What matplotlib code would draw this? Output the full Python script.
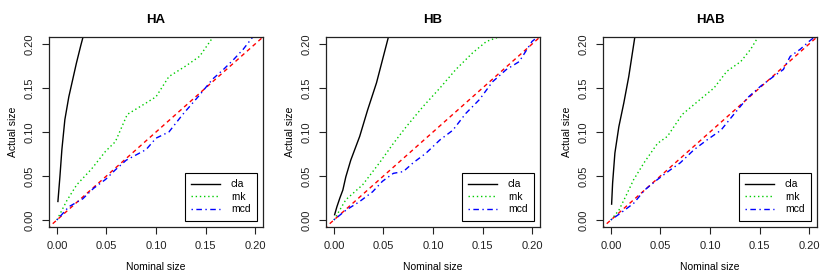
import matplotlib
matplotlib.use("Agg")
import matplotlib.pyplot as plt
import numpy as np

plt.rcParams["font.family"] = ["Liberation Sans", "DejaVu Sans"]

titles = ["HA", "HB", "HAB"]
labels = ["cla", "rnk", "mcd"]

# HA
ha_cla_x = [0.001, 0.003, 0.005, 0.008, 0.012, 0.016, 0.0196, 0.024, 0.028]
ha_cla_y = [0.021, 0.049, 0.080, 0.114, 0.140, 0.160, 0.178, 0.198, 0.215]
ha_rnk_x = [0.0, 0.01, 0.02, 0.035, 0.049, 0.059, 0.071, 0.09, 0.1, 0.113, 0.13, 0.144, 0.157, 0.162]
ha_rnk_y = [0.0, 0.022, 0.040, 0.058, 0.078, 0.089, 0.120, 0.133, 0.140, 0.163, 0.175, 0.186, 0.207, 0.215]
ha_mcd_x = [0.0, 0.012, 0.026, 0.037, 0.049, 0.059, 0.07, 0.08, 0.09, 0.1, 0.113, 0.127, 0.144, 0.157, 0.168, 0.178, 0.188, 0.197, 0.203]
ha_mcd_y = [0.0, 0.015, 0.024, 0.036, 0.046, 0.057, 0.068, 0.074, 0.080, 0.093, 0.100, 0.120, 0.142, 0.160, 0.171, 0.182, 0.194, 0.207, 0.215]

# HB
hb_cla_x = [0.0007, 0.003, 0.006, 0.009, 0.012, 0.017, 0.026, 0.034, 0.043, 0.049, 0.055, 0.057]
hb_cla_y = [0.006, 0.015, 0.025, 0.034, 0.049, 0.068, 0.095, 0.125, 0.156, 0.182, 0.208, 0.215]
hb_rnk_x = [0.0, 0.012, 0.029, 0.046, 0.06, 0.073, 0.09, 0.107, 0.123, 0.14, 0.154, 0.164, 0.17]
hb_rnk_y = [0.0, 0.023, 0.040, 0.065, 0.087, 0.106, 0.129, 0.150, 0.171, 0.190, 0.203, 0.207, 0.212]
hb_mcd_x = [0.0, 0.012, 0.026, 0.039, 0.049, 0.06, 0.07, 0.08, 0.093, 0.107, 0.12, 0.133, 0.147, 0.16, 0.174, 0.187, 0.2, 0.21]
hb_mcd_y = [0.0, 0.011, 0.021, 0.032, 0.044, 0.053, 0.055, 0.065, 0.076, 0.091, 0.102, 0.121, 0.137, 0.157, 0.171, 0.180, 0.203, 0.212]

# HAB
hab_cla_x = [0.0007, 0.0017, 0.004, 0.008, 0.013, 0.018, 0.024, 0.026]
hab_cla_y = [0.018, 0.042, 0.076, 0.106, 0.133, 0.163, 0.207, 0.215]
hab_rnk_x = [0.0, 0.008, 0.015, 0.023, 0.034, 0.047, 0.057, 0.072, 0.09, 0.104, 0.117, 0.131, 0.141, 0.148, 0.151]
hab_rnk_y = [0.0, 0.011, 0.027, 0.046, 0.066, 0.087, 0.095, 0.120, 0.137, 0.150, 0.169, 0.180, 0.194, 0.207, 0.215]
hab_mcd_x = [0.0, 0.01, 0.023, 0.034, 0.047, 0.06, 0.07, 0.084, 0.097, 0.111, 0.124, 0.138, 0.151, 0.164, 0.174, 0.181, 0.191, 0.2, 0.21]
hab_mcd_y = [0.0, 0.008, 0.019, 0.034, 0.046, 0.057, 0.065, 0.080, 0.091, 0.102, 0.120, 0.139, 0.152, 0.163, 0.171, 0.186, 0.194, 0.203, 0.212]

panels = [
    [(ha_cla_x, ha_cla_y), (ha_rnk_x, ha_rnk_y), (ha_mcd_x, ha_mcd_y)],
    [(hb_cla_x, hb_cla_y), (hb_rnk_x, hb_rnk_y), (hb_mcd_x, hb_mcd_y)],
    [(hab_cla_x, hab_cla_y), (hab_rnk_x, hab_rnk_y), (hab_mcd_x, hab_mcd_y)],
]

colors = ["black", "#00CD00", "blue"]
styles = ["-", (0, (1, 2)), (0, (1, 2.5, 4, 2.5))]

W, H = 830, 277
fig = plt.figure(figsize=(8.3, 2.77), dpi=100)
lefts = [49, 326, 603]
box_w = 214
top, bottom = 37, 227

for i, ax_left in enumerate(lefts):
    ax = fig.add_axes([ax_left / W, 1 - bottom / H, box_w / W, (bottom - top) / H])
    ref = np.array([-0.01, 0.21])
    ax.plot(ref, ref, color="red", linestyle=(0, (3, 2.5)), linewidth=1)
    for (x, y), c, s, lab in zip(panels[i], colors, styles, labels):
        ax.plot(x, y, color=c, linestyle=s, linewidth=1, label=lab)
    ax.set_xlim(-0.008, 0.208)
    ax.set_ylim(-0.008, 0.208)
    ticks = [0.0, 0.05, 0.10, 0.15, 0.20]
    ax.set_xticks(ticks)
    ax.set_yticks(ticks)
    ax.set_xticklabels(["%.2f" % t for t in ticks])
    ax.set_yticklabels(["%.2f" % t for t in ticks], rotation=90, va="center")
    ax.tick_params(direction="out", length=5, width=0.8, labelsize=8, pad=5,
                   colors="#222222")
    for sp in ax.spines.values():
        sp.set_linewidth(0.9)
        sp.set_color("#222222")
    ax.set_title(titles[i], fontsize=9.5, fontweight="bold", pad=10)
    ax.set_xlabel("Nominal size", fontsize=7.5, labelpad=8)
    ax.set_ylabel("Actual size", fontsize=7.5, labelpad=5)
    leg = ax.legend(loc="lower right", fontsize=7.5, fancybox=False,
                    edgecolor="black", framealpha=1, borderaxespad=0.6,
                    handlelength=2.8, handletextpad=1.0, labelspacing=0.25,
                    borderpad=0.6)
    leg.get_frame().set_linewidth(0.8)

fig.savefig("out.png", dpi=100)
